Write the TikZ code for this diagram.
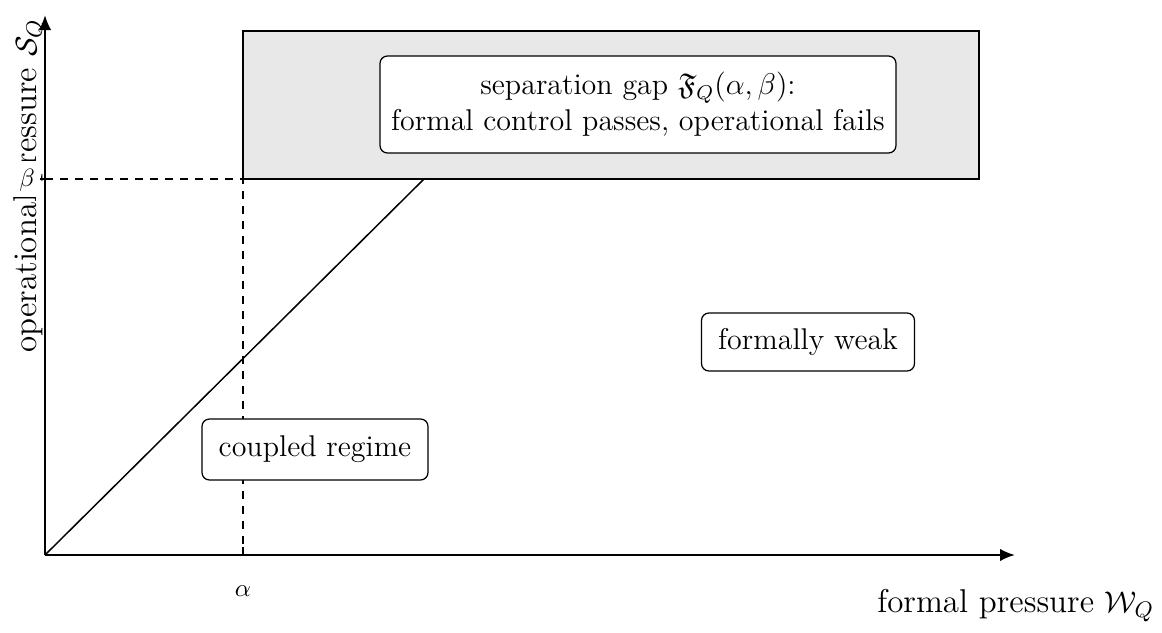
\documentclass[tikz,border=0pt]{standalone}
\usepackage{amsmath,amssymb}
\usetikzlibrary{arrows.meta}
\begin{document}
\begin{tikzpicture}[x=0.4pt,y=-0.4pt,
  font=\fontsize{12}{14.4}\selectfont,
  thinline/.style={line width=0.6pt},
  axisline/.style={line width=0.8pt,-{Latex[length=6pt,width=5pt]}},
  regionbox/.style={draw,line width=0.5pt,rounded corners=3pt,fill=white,align=center,inner sep=2pt},
  ticklbl/.style={font=\fontsize{10}{12}\selectfont,inner sep=1.5pt},
  axislbl/.style={font=\fontsize{13.2}{15.8}\selectfont,inner sep=1pt}]
\useasboundingbox (0,0) rectangle (1162,633);
\coordinate (O) at (45,555);
\coordinate (xend) at (1015,555);
\coordinate (yend) at (45,15);
\coordinate (ab) at (243,179);
\coordinate (yb) at (45,179);
\coordinate (xa) at (243,555);
\coordinate (dg) at (424,179);
% shaded gap region
\draw[thinline,fill=gray!18] (243,31) rectangle (979,179);
% axis labels
\node[axislbl,rotate=90] (ylab) at (30,186) {operational pressure $\mathcal{S}_Q$};
\node[axislbl,anchor=east] (xlab) at (1157,606) {formal pressure $\mathcal{W}_Q$};
% dashed guides
\draw[thinline,dashed] (yb) -- (ab) -- (xa);
% diagonal
\draw[thinline] (O) -- (dg);
% axes
\draw[axisline] (O) -- (xend);
\draw[axisline] (O) -- (yend);
% ticks
\draw[thinline] (xa) -- ++(0,-8);
\fill[white] (12,161) rectangle (41,197);
\draw[thinline] (yb) -- ++(-5,0);
\node[ticklbl] (beta) at (27,180) {$\beta$};
\node[ticklbl] (alpha) at (243,591) {$\alpha$};
% region labels
\node[regionbox,minimum width=206.4pt,minimum height=38.8pt] (gap) at (638,104.5)
  {separation gap $\mathfrak{F}_Q(\alpha,\beta)$:\\formal control passes, operational fails};
\node[regionbox,minimum width=85.2pt,minimum height=23.2pt] (weak) at (808,342) {formally weak};
\node[regionbox,minimum width=90.4pt,minimum height=24.4pt] (coupled) at (315,449.5) {coupled regime};
\end{tikzpicture}
\end{document}
